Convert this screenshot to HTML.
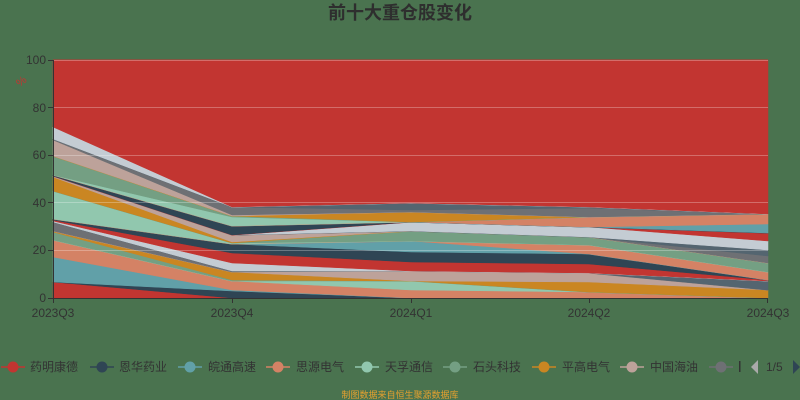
<!DOCTYPE html>
<html><head><meta charset="utf-8"><style>
html,body{margin:0;padding:0;background:#4a734f;}
svg{display:block;}
text{font-family:"Liberation Sans","Noto Sans CJK SC",sans-serif;}
</style></head><body>
<svg width="800" height="400" viewBox="0 0 800 400" xmlns="http://www.w3.org/2000/svg">
<rect width="800" height="400" fill="#4a734f"/>
<text x="400" y="19" text-anchor="middle" font-size="18" font-weight="bold" fill="#2e2e2e">前十大重仓股变化</text>
<g id="areas"></g>
<g stroke="#ffffff" stroke-opacity="0.28" stroke-width="1">
<line x1="53" y1="60.5" x2="768" y2="60.5"/>
<line x1="53" y1="107.5" x2="768" y2="107.5"/>
<line x1="53" y1="155.5" x2="768" y2="155.5"/>
<line x1="53" y1="202.5" x2="768" y2="202.5"/>
<line x1="53" y1="250.5" x2="768" y2="250.5"/>
</g>
<g stroke="#333" stroke-width="1">
<line x1="53.5" y1="60" x2="53.5" y2="298"/>
<line x1="53" y1="298.5" x2="768" y2="298.5"/>
<line x1="48" y1="60.5" x2="53" y2="60.5"/>
<line x1="48" y1="107.5" x2="53" y2="107.5"/>
<line x1="48" y1="155.5" x2="53" y2="155.5"/>
<line x1="48" y1="202.5" x2="53" y2="202.5"/>
<line x1="48" y1="250.5" x2="53" y2="250.5"/>
<line x1="48" y1="298.5" x2="53" y2="298.5"/>
<line x1="53.5" y1="298" x2="53.5" y2="303"/>
<line x1="232.5" y1="298" x2="232.5" y2="303"/>
<line x1="411.5" y1="298" x2="411.5" y2="303"/>
<line x1="589.5" y1="298" x2="589.5" y2="303"/>
<line x1="767.5" y1="298" x2="767.5" y2="303"/>
</g>
<g font-size="12" fill="#333" text-anchor="end">
<text x="46" y="64">100</text>
<text x="46" y="112">80</text>
<text x="46" y="159">60</text>
<text x="46" y="207">40</text>
<text x="46" y="254">20</text>
<text x="46" y="302">0</text>
</g>
<text x="21" y="85" font-size="11" fill="#c23531" transform="rotate(-40 21 81)" text-anchor="middle">%</text>
<g font-size="12" fill="#333" text-anchor="middle">
<text x="53" y="317">2023Q3</text>
<text x="232" y="317">2023Q4</text>
<text x="411" y="317">2024Q1</text>
<text x="589" y="317">2024Q2</text>
<text x="768" y="317">2024Q3</text>
</g>
<g font-size="12" fill="#333">
<line x1="1" y1="367" x2="25" y2="367" stroke="#c23531" stroke-width="1.5"/><circle cx="13" cy="367" r="5.5" fill="#c23531"/>
<text x="30" y="371">药明康德</text>
<line x1="90" y1="367" x2="114" y2="367" stroke="#2f4554" stroke-width="1.5"/><circle cx="102" cy="367" r="5.5" fill="#2f4554"/>
<text x="119" y="371">恩华药业</text>
<line x1="178" y1="367" x2="202" y2="367" stroke="#61a0a8" stroke-width="1.5"/><circle cx="190" cy="367" r="5.5" fill="#61a0a8"/>
<text x="208" y="371">皖通高速</text>
<line x1="266" y1="367" x2="290" y2="367" stroke="#d48265" stroke-width="1.5"/><circle cx="278" cy="367" r="5.5" fill="#d48265"/>
<text x="296" y="371">思源电气</text>
<line x1="355" y1="367" x2="379" y2="367" stroke="#91c7ae" stroke-width="1.5"/><circle cx="367" cy="367" r="5.5" fill="#91c7ae"/>
<text x="385" y="371">天孚通信</text>
<line x1="443" y1="367" x2="467" y2="367" stroke="#749f83" stroke-width="1.5"/><circle cx="455" cy="367" r="5.5" fill="#749f83"/>
<text x="473" y="371">石头科技</text>
<line x1="532" y1="367" x2="556" y2="367" stroke="#ca8622" stroke-width="1.5"/><circle cx="544" cy="367" r="5.5" fill="#ca8622"/>
<text x="562" y="371">平高电气</text>
<line x1="620" y1="367" x2="644" y2="367" stroke="#bda29a" stroke-width="1.5"/><circle cx="632" cy="367" r="5.5" fill="#bda29a"/>
<text x="650" y="371">中国海油</text>
<line x1="709" y1="367" x2="733" y2="367" stroke="#6e7074" stroke-width="1.5"/><circle cx="721" cy="367" r="5.5" fill="#6e7074"/>
<rect x="739" y="361" width="1.5" height="11" fill="#333"/>
<polygon points="751,367 758,360 758,374" fill="#aaaaaa"/>
<text x="766" y="371">1/5</text>
<polygon points="800,367 793,360 793,374" fill="#2f4554"/>
</g>
<text x="400" y="398" text-anchor="middle" font-size="9" fill="#e5a12f">制图数据来自恒生聚源数据库</text>
</svg>
<script>
(function(){
var X=[53,232,411,589,768];
var C={r:"#c23531",n:"#2f4554",t:"#61a0a8",s:"#d48265",m:"#91c7ae",g:"#749f83",o:"#ca8622",p:"#bda29a",gr:"#6e7074",sl:"#546570",l:"#c4ccd3"};
var S=[
["r",[282,298,298,298,298]],
["n",[282,291,298,298,298]],
["t",[257,290,298,298,298]],
["s",[240,281,290,292,298]],
["m",[240,281,281,292,298]],
["g",[232,280,281,292,298]],
["o",[231,272,281,282,290]],
["p",[231,272,271,273,290]],
["gr",[222,271,271,273,290]],
["sl",[222,271,271,273,281]],
["l",[221,263,271,273,281]],
["r",[220,253,262,264,280]],
["n",[219,244,252,254,280]],
["t",[219,244,241,254,280]],
["s",[219,244,241,245,272]],
["m",[191,243,241,245,272]],
["g",[191,243,231,237,263]],
["o",[177,242,231,237,263]],
["p",[176,235,231,237,263]],
["gr",[176,235,231,237,256]],
["sl",[176,235,231,237,250]],
["l",[176,235,222,227,241]],
["r",[176,235,222,227,233]],
["n",[175,226,222,227,233]],
["t",[175,226,222,227,224]],
["s",[175,226,222,217,214]],
["m",[175,217,222,217,214]],
["g",[156,216,222,217,214]],
["o",[156,216,212,217,214]],
["p",[140,215,212,217,214]],
["gr",[139,207,210,208,214]],
["sl",[139,207,203,207,214]],
["l",[127,207,203,207,214]],
["r",[60,60,60,60,60]]
];
var g=document.getElementById("areas");
var ns="http://www.w3.org/2000/svg";
var prev=[298,298,298,298,298];
var html="";
for(var i=0;i<S.length;i++){
 var col=C[S[i][0]],top=S[i][1],pts=[];
 for(var k=0;k<5;k++)pts.push(X[k]+","+top[k]);
 for(var k=4;k>=0;k--)pts.push(X[k]+","+prev[k]);
 var p=document.createElementNS(ns,"polygon");
 p.setAttribute("points",pts.join(" "));p.setAttribute("fill",col);
 p.setAttribute("stroke",col);p.setAttribute("stroke-width","0.5");
 g.appendChild(p);
 var lp=[];for(var k=0;k<5;k++)lp.push(X[k]+","+top[k]);
 var l=document.createElementNS(ns,"polyline");
 l.setAttribute("points",lp.join(" "));l.setAttribute("fill","none");
 l.setAttribute("stroke",col);l.setAttribute("stroke-width","1");
 g.appendChild(l);
 prev=top;
}
})();
</script>
</body></html>
